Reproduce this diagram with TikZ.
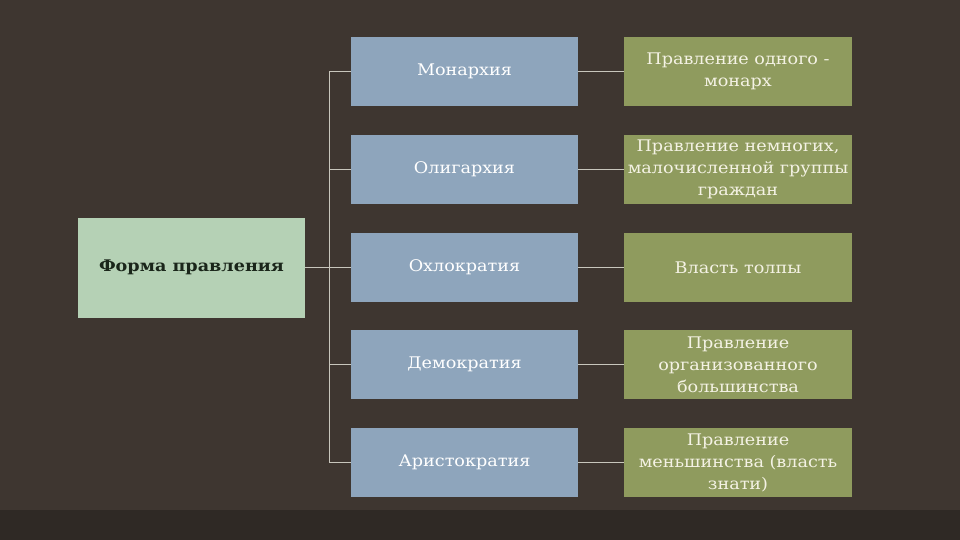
\documentclass[tikz,border=0pt]{standalone}
\usepackage{fontspec}
\setmainfont[FakeStretch=1.1]{DejaVu Serif}
\definecolor{bgc}{HTML}{3E3630}
\definecolor{bgd}{HTML}{2F2925}
\definecolor{leftc}{HTML}{B5D1B5}
\definecolor{bluec}{HTML}{8EA5BC}
\definecolor{greenc}{HTML}{8F9B5E}
\definecolor{linec}{HTML}{C8C6BC}
\definecolor{darktxt}{HTML}{1A261A}
\definecolor{creamtxt}{HTML}{F4F2E4}
\begin{document}
\begin{tikzpicture}[x=1pt,y=-1pt,
  box/.style={inner sep=0pt,minimum height=69pt,align=center,font=\fontsize{16}{22}\selectfont},
  leftbox/.style={box,fill=leftc,minimum width=227pt,minimum height=100pt,text=darktxt,font=\fontsize{16}{22}\selectfont\bfseries},
  bluebox/.style={box,fill=bluec,minimum width=227pt,text=white},
  greenbox/.style={box,fill=greenc,minimum width=228pt,text=creamtxt},
  conn/.style={draw=linec,line width=0.8pt}]
\fill[bgc] (0,0) rectangle (960,540);
\fill[bgd] (0,510) rectangle (960,540);
\node[leftbox] (L) at (191.5,267.5) {Форма правления};
\node[bluebox] (b1) at (464.5,71.5) {Монархия};
\node[bluebox] (b2) at (464.5,169.5) {Олигархия};
\node[bluebox] (b3) at (464.5,267.5) {Охлократия};
\node[bluebox] (b4) at (464.5,364.5) {Демократия};
\node[bluebox] (b5) at (464.5,462.5) {Аристократия};
\node[greenbox] (g1) at (738,71.5) {Правление одного -\\монарх};
\node[greenbox] (g2) at (738,169.5) {Правление немногих,\\малочисленной группы\\граждан};
\node[greenbox] (g3) at (738,267.5) {Власть толпы};
\node[greenbox] (g4) at (738,364.5) {Правление\\организованного\\большинства};
\node[greenbox] (g5) at (738,462.5) {Правление\\меньшинства (власть\\знати)};
\coordinate (bus) at (329,267.5);
\draw[conn] (bus |- b1.west) -- (bus |- b5.west);
\draw[conn] (L.east) -- (b3.west);
\foreach \i in {1,...,5}{
  \draw[conn] (bus |- b\i.west) -- (b\i.west);
  \draw[conn] (b\i.east) -- (g\i.west);
}
\end{tikzpicture}
\end{document}
